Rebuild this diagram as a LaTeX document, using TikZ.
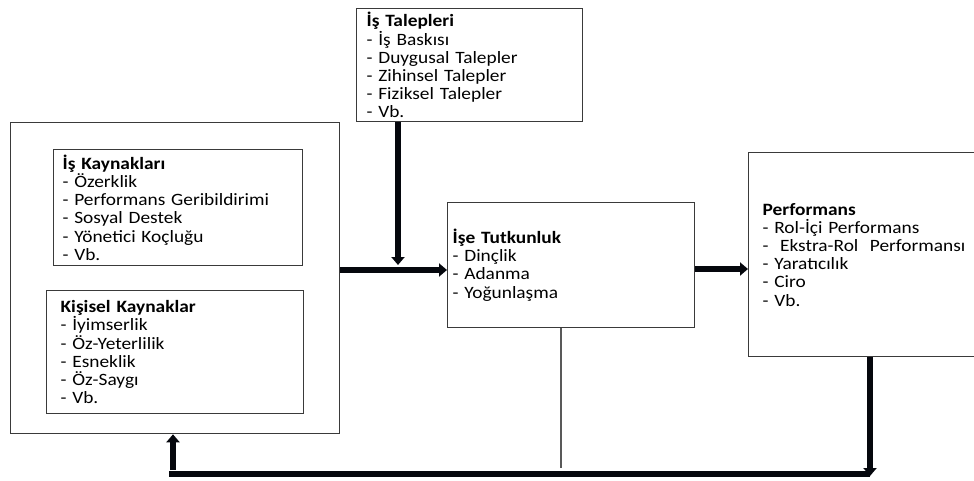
\documentclass[tikz,border=0pt]{standalone}
\usepackage{fontspec}
\setmainfont{Carlito}[FakeStretch=1.12]
\usetikzlibrary{arrows.meta}
\definecolor{edge}{HTML}{3A3A3A}
\definecolor{arrowink}{HTML}{05070D}
\tikzset{
  box/.style={draw=edge, line width=1.3pt, rectangle, align=left, anchor=north west,
    inner ysep=0pt, font=\fontsize{17.3}{18.2}\selectfont},
  bigarrow/.style={draw=arrowink, line width=5.5pt, -{Triangle[width=13pt,length=8pt]}},
  bigbar/.style={draw=arrowink, line width=5.5pt},
  thinline/.style={draw=black!65, line width=1.2pt},
}
\begin{document}
\begin{tikzpicture}[x=1pt,y=-1pt]
\useasboundingbox (0,0) rectangle (974,481);
\clip (0,0) rectangle (974,481);

% demands on top
\node[box, inner xsep=10pt, text width=206pt, minimum height=113pt] (talep) at (356,8)
  {\textbf{İş Talepleri}\\- İş Baskısı\\- Duygusal Talepler\\- Zihinsel Talepler\\- Fiziksel Talepler\\- Vb.};

% resources (outer frame with two inner boxes)
\node[draw=edge, line width=1.3pt, rectangle, anchor=north west, minimum width=329pt, minimum height=311pt] (kaynak) at (10,122) {};
\node[box, inner xsep=9pt, text width=231pt, minimum height=116pt] (is) at (53,149)
  {\textbf{İş Kaynakları}\\- Özerklik\\- Performans Geribildirimi\\- Sosyal Destek\\- Yönetici Koçluğu\\- Vb.};
\node[box, inner xsep=14pt, text width=229pt, minimum height=123pt] (kisi) at (46,290)
  {\textbf{Kişisel Kaynaklar}\\- İyimserlik\\- Öz-Yeterlilik\\- Esneklik\\- Öz-Saygı\\- Vb.};

% engagement
\node[box, inner xsep=5pt, text width=237pt, minimum height=125pt] (tutku) at (447,202)
  {\textbf{İşe Tutkunluk}\\- Dinçlik\\- Adanma\\- Yoğunlaşma};

% performance (runs past the right edge)
\node[box, inner xsep=14pt, text width=240pt, minimum height=204pt] (perf) at (748,152)
  {\textbf{Performans}\\- Rol-İçi Performans\\-\ \ Ekstra-Rol\ \ Performansı\\- Yaratıcılık\\- Ciro\\- Vb.\\[3pt]};

% connectors
\coordinate (joinR) at (870,474);
\coordinate (joinL) at (173,474);
\coordinate (tapE) at (561,468);

\draw[bigarrow] (talep.south -| 398,0) -- (398,265);
\draw[bigarrow] (kaynak.east |- 0,270) -- (tutku.west |- 0,270);
\draw[bigarrow] (tutku.east |- 0,269) -- (perf.west |- 0,269);
\draw[thinline] (tutku.south -| tapE) -- (tapE);
\draw[bigarrow] (perf.south -| joinR) -- ([yshift=-2pt]joinR);
\draw[bigbar] (joinR) -- ([xshift=-4pt]joinL);
\draw[bigarrow] ([yshift=4pt]joinL) -- (kaynak.south -| joinL);
\end{tikzpicture}
\end{document}
